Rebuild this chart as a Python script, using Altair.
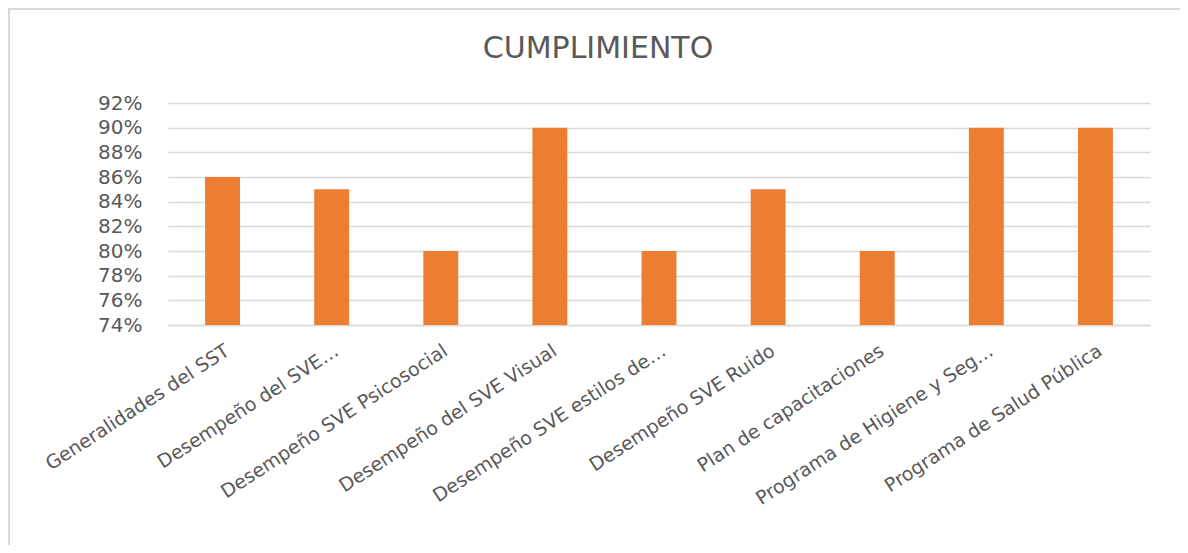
import altair as alt
import pandas as pd

categories = [
    "Generalidades del SST",
    "Desempeño del SVE…",
    "Desempeño SVE Psicosocial",
    "Desempeño del SVE Visual",
    "Desempeño SVE estilos de…",
    "Desempeño SVE Ruido",
    "Plan de capacitaciones",
    "Programa de Higiene y Seg…",
    "Programa de Salud Pública",
]
values = [0.86, 0.85, 0.80, 0.90, 0.80, 0.85, 0.80, 0.90, 0.90]
y_ticks = [0.74, 0.76, 0.78, 0.80, 0.82, 0.84, 0.86, 0.88, 0.90, 0.92]

df = pd.DataFrame({"categoria": categories, "valor": values})

FONT = "DejaVu Sans"
GREY = "#595959"

bars = alt.Chart(df).mark_bar(color="#ED7D31", clip=True).encode(
    x=alt.X(
        "categoria:N",
        sort=categories,
        title=None,
        scale=alt.Scale(paddingInner=0.68, paddingOuter=0.34),
        axis=alt.Axis(
            labelAngle=-33,
            labelAlign="right",
            labelBaseline="top",
            labelPadding=16,
            labelFont=FONT,
            labelFontSize=19,
            labelColor=GREY,
            labelLimit=400,
            ticks=False,
            domainColor="#d9d9d9",
            domainWidth=1.5,
        ),
    ),
    y=alt.Y(
        "valor:Q",
        title=None,
        scale=alt.Scale(domain=[0.74, 0.92], nice=False, zero=False),
        axis=alt.Axis(
            values=y_ticks,
            format=".0%",
            labelFont=FONT,
            labelFontSize=20,
            labelColor=GREY,
            labelPadding=26,
            ticks=False,
            domain=False,
            gridColor="#d9d9d9",
            gridWidth=1.5,
        ),
    ),
)

border = alt.Chart(df).mark_rect(
    fill=None, stroke="#d9d9d9", strokeWidth=2, clip=False
).encode(
    x=alt.value(-159), x2=alt.value(1015), y=alt.value(-94), y2=alt.value(452)
)

chart = alt.layer(bars, border).properties(
    width=982,
    height=222,
    autosize=alt.AutoSizeParams(type="none"),
    padding={"left": 160, "top": 95, "right": 30, "bottom": 220},
    title=alt.TitleParams(
        "CUMPLIMIENTO",
        font=FONT,
        fontSize=30,
        fontWeight="normal",
        color=GREY,
        anchor="middle",
        baseline="alphabetic",
        dx=-61,
        dy=80,
        offset=0,
    ),
).configure_view(stroke=None)

chart.save("out.html", embed_options={"renderer": "svg", "actions": False})
